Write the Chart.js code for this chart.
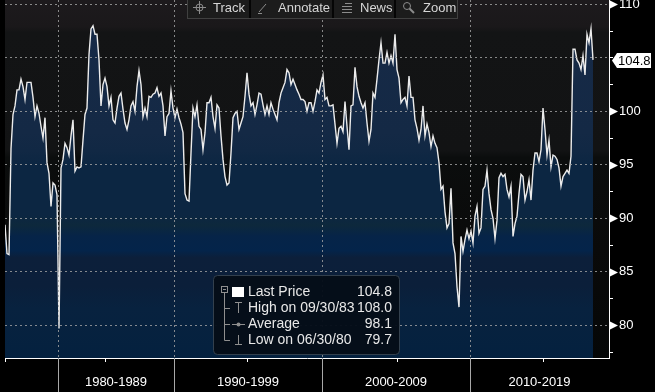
<!DOCTYPE html>
<html>
<head>
<meta charset="utf-8">
<script src="https://cdn.jsdelivr.net/npm/chart.js@4.4.0/dist/chart.umd.min.js"></script>
<style>
  html, body { margin: 0; padding: 0; background: #000; }
  canvas { display: block; }
</style>
</head>
<body>
<canvas id="chart" width="655" height="392"></canvas>
<script>
// Price history, one array per decade
const pre1980 = [89.4, 86.7, 86.6, 96.5, 99.7, 100.5, 102.0, 102.0, 103.0, 102.3, 101.1, 102.7, 102.7, 102.7,
  101.3, 99.5, 100.5, 99.8, 98.6, 97.5, 99.4, 95.2, 94.2, 91.1, 93.3, 93.1, 92.2];
const s1980s = [79.7, 94.7, 95.5, 97.0, 96.6, 95.9, 97.7, 99.2, 94.4, 94.8, 94.7, 94.8, 97.3, 99.7, 100.3, 105.3,
  107.7, 108.0, 107.2, 107.2, 104.8, 100.5, 102.5, 103.1, 102.3, 100.5, 101.3, 99.2, 98.9, 100.3, 101.4, 101.7,
  100.2, 98.9, 98.3, 99.2, 100.5, 100.9, 100.0, 102.3, 103.8, 102.5, 99.5, 100.3, 99.5, 101.4, 101.3, 101.6,
  101.7, 102.2, 101.4, 101.7, 100.5, 97.7, 99.5, 99.8, 101.9, 100.3];
const s1990s = [99.4, 100.2, 99.4, 98.8, 98.0, 92.3, 91.7, 91.6, 96.1, 100.3, 99.5, 100.6, 98.6, 98.3, 96.4, 98.0,
  100.8, 100.8, 101.3, 99.5, 98.4, 100.6, 100.3, 97.7, 95.5, 93.9, 93.1, 93.3, 96.1, 99.4, 99.8, 100.0, 98.3,
  98.9, 99.5, 101.4, 103.6, 101.6, 100.5, 100.8, 99.7, 100.6, 101.7, 101.6, 100.6, 99.7, 100.5, 99.7, 100.8,
  100.2, 99.7, 99.2, 100.8, 101.7, 102.2, 102.7, 103.9, 103.6, 102.5, 103.0, 102.5, 102.0, 101.6, 101.1, 101.1,
  100.9, 100.0, 100.8, 100.8, 100.0, 100.9, 102.0, 101.7, 102.7];
const s2000s = [103.4, 101.1, 101.3, 100.5, 100.5, 100.6, 98.8, 97.0, 98.4, 98.6, 98.1, 100.9, 98.6, 96.4, 100.5,
  100.6, 104.1, 102.3, 101.4, 100.8, 100.3, 100.8, 98.9, 97.2, 98.3, 101.7, 101.3, 103.0, 104.8, 106.4, 104.5,
  104.5, 105.5, 104.5, 105.2, 104.5, 107.2, 103.9, 103.1, 100.8, 101.1, 101.3, 100.5, 103.3, 101.3, 101.3, 99.2,
  98.4, 97.3, 98.3, 100.5, 97.7, 98.8, 98.0, 96.7, 97.7, 97.0, 96.6, 95.2, 92.7, 93.0, 90.6, 89.1, 89.5, 92.8,
  87.7, 86.7, 83.6, 81.7, 88.3, 86.9, 88.0, 88.9, 88.1];
const s2010s = [88.8, 87.7, 90.2, 91.1, 88.6, 89.1, 92.7, 93.0, 94.5, 92.3, 90.8, 90.0, 88.1, 89.8, 93.8, 94.2,
  93.9, 94.1, 92.7, 92.0, 93.0, 88.3, 89.5, 90.2, 92.3, 94.1, 93.9, 91.7, 92.5, 93.6, 91.7, 94.5, 96.1, 96.1,
  95.3, 96.4, 100.3, 98.3, 95.9, 97.3, 94.8, 95.9, 95.8, 95.5, 94.7, 93.0, 93.9, 94.2, 94.5, 94.2, 95.8, 105.8,
  105.8, 104.8, 104.5, 103.9, 105.2, 103.4, 107.2, 106.4, 107.7, 104.8];

const decadeLabels = ['1980-1989', '1990-1999', '2000-2009', '2010-2019'];
const halfDecadeIdx = [0, 50, 121, 196, 269];
const lastPrice = 104.8;
const legendRows = [
  ['Last Price', '104.8'],
  ['High on 09/30/83', '108.0'],
  ['Average', '98.1'],
  ['Low on 06/30/80', '79.7']
];
const toolbarItems = ['Track', 'Annotate', 'News', 'Zoom'];

const FONT = "'Liberation Sans', Arial, sans-serif";
const GRID = 'rgba(165, 165, 165, 0.8)';
const X_MAX = 302;

const segments = [pre1980, s1980s, s1990s, s2000s, s2010s];
const series = segments.flat();
const points = series.map((v, i) => ({ x: i, y: v }));

// decade boundaries sit between the last point of one decade and the first of the next
const boundaries = [];
let acc = 0;
segments.slice(0, -1).forEach(s => { acc += s.length; boundaries.push(acc - 0.5); });
const labelCenters = boundaries.map((b, i) => (b + (boundaries[i + 1] ?? X_MAX)) / 2);

function areaFill(context) {
  const { ctx, chartArea } = context.chart;
  if (!chartArea) return '#0c2642';
  const g = ctx.createLinearGradient(0, chartArea.top, 0, chartArea.bottom);
  [[0, '#172a47'], [0.37, '#142945'], [0.42, '#112844'], [0.46, '#0c2642'], [0.6, '#0c2642'],
   [0.63, '#0d283c'], [0.66, '#062448'], [0.7, '#04244a'], [0.72, '#0c1f3a'], [0.8, '#0b1f3a'],
   [0.86, '#08223f'], [1, '#04213f']].forEach(([o, c]) => g.addColorStop(o, c));
  return g;
}

const backdrop = {
  id: 'backdrop',
  beforeDraw(chart) {
    const { ctx, chartArea: a, width, height } = chart;
    ctx.save();
    ctx.fillStyle = '#000';
    ctx.fillRect(0, 0, width, height);
    const g = ctx.createLinearGradient(0, a.top, 0, a.bottom);
    [[0, '#1d1a1d'], [0.075, '#1a181a'], [0.09, '#131415'], [0.42, '#121314'], [0.44, '#0b0d0d'],
     [0.7, '#0a0a0a'], [1, '#050707']].forEach(([o, c]) => g.addColorStop(o, c));
    ctx.fillStyle = g;
    ctx.fillRect(a.left, a.top, a.right - a.left, a.bottom - a.top);
    ctx.restore();
  }
};

function line(ctx, x1, y1, x2, y2) {
  ctx.beginPath(); ctx.moveTo(x1, y1); ctx.lineTo(x2, y2); ctx.stroke();
}

function drawToolbar(ctx) {
  const cuts = [187, 250, 333, 395, 458];
  const textX = [213, 278, 360, 423];
  ctx.fillStyle = '#1c1c1c';
  ctx.fillRect(cuts[0], 0, cuts[4] - cuts[0], 18);
  ctx.strokeStyle = '#404040';
  ctx.lineWidth = 1;
  ctx.strokeRect(cuts[0] + 0.5, -1, cuts[4] - cuts[0] - 1, 19.5);
  ctx.strokeStyle = '#050505';
  ctx.lineWidth = 2;
  cuts.slice(1, -1).forEach(c => line(ctx, c, 0, c, 18));

  ctx.fillStyle = '#d6d6d6';
  ctx.font = `13px ${FONT}`;
  ctx.textBaseline = 'middle';
  ctx.textAlign = 'left';
  toolbarItems.forEach((t, i) => ctx.fillText(t, textX[i], 8.5));

  // icons
  ctx.strokeStyle = '#8c8c8c';
  ctx.lineWidth = 1;
  ctx.beginPath(); ctx.arc(199.5, 7.5, 3.5, 0, Math.PI * 2); ctx.stroke();
  line(ctx, 193, 7.5, 206, 7.5);
  line(ctx, 199.5, 1, 199.5, 14);
  line(ctx, 259, 12, 266, 4);
  line(ctx, 258, 13.5, 262, 13.5);
  [3.5, 6.5, 9.5, 12.5].forEach((yy, i) => line(ctx, i === 0 ? 345 : 342, yy, 352, yy));
  ctx.beginPath(); ctx.arc(407, 6, 3.5, 0, Math.PI * 2); ctx.stroke();
  ctx.lineWidth = 2;
  line(ctx, 409.5, 8.5, 414, 13);
}

function drawLegend(ctx) {
  const bx = 213.5, by = 275.5, bw = 186, bh = 79, r = 4;
  ctx.beginPath();
  ctx.moveTo(bx + r, by);
  ctx.arcTo(bx + bw, by, bx + bw, by + bh, r);
  ctx.arcTo(bx + bw, by + bh, bx, by + bh, r);
  ctx.arcTo(bx, by + bh, bx, by, r);
  ctx.arcTo(bx, by, bx + bw, by, r);
  ctx.closePath();
  ctx.fillStyle = 'rgba(5, 14, 24, 0.96)';
  ctx.fill();
  ctx.strokeStyle = '#33404d';
  ctx.lineWidth = 1;
  ctx.stroke();

  const rowY = [292, 308, 324, 340];
  const gray = '#8f8f8f';
  ctx.strokeStyle = gray;
  ctx.lineWidth = 1;
  ctx.strokeRect(221.5, 286.5, 6, 6);
  line(ctx, 223, 289.5, 226, 289.5);
  line(ctx, 224.5, 292.5, 224.5, rowY[3] + 0.5);
  rowY.slice(1).forEach(yy => line(ctx, 224.5, yy + 0.5, 230, yy + 0.5));

  ctx.fillStyle = '#ffffff';
  ctx.fillRect(232, 287, 12, 10);

  // high / average / low glyphs
  ctx.strokeStyle = gray;
  line(ctx, 235, 302.5, 242, 302.5);
  line(ctx, 238.5, 302.5, 238.5, 313);
  line(ctx, 232, 324.5, 245, 324.5);
  ctx.fillStyle = gray;
  ctx.beginPath(); ctx.arc(238.5, 324.5, 2, 0, Math.PI * 2); ctx.fill();
  line(ctx, 238.5, 335, 238.5, 344.5);
  line(ctx, 235, 344.5, 242, 344.5);

  ctx.font = `14px ${FONT}`;
  ctx.textBaseline = 'middle';
  ctx.fillStyle = '#e8e8e8';
  legendRows.forEach(([label, val], i) => {
    ctx.textAlign = 'left';
    ctx.fillText(label, 248, rowY[i]);
    ctx.textAlign = 'right';
    ctx.fillText(val, 392, rowY[i]);
  });
}

const overlay = {
  id: 'overlay',
  afterDraw(chart) {
    const { ctx, chartArea: a, scales: { x, y }, height } = chart;
    ctx.save();

    // bottom axis: long marks at decade edges, short marks at mid-decade
    ctx.lineWidth = 1;
    ctx.strokeStyle = '#a8a8a8';
    boundaries.forEach(b => {
      const px = Math.round(x.getPixelForValue(b)) + 0.5;
      line(ctx, px, a.bottom, px, height);
    });
    ctx.strokeStyle = '#ffffff';
    halfDecadeIdx.forEach(v => {
      const px = Math.round(x.getPixelForValue(v)) + 0.5;
      line(ctx, px, a.bottom, px, a.bottom + 4);
    });

    // right axis flags on labelled ticks
    ctx.fillStyle = '#ffffff';
    y.ticks.forEach(t => {
      if (t.value % 5 !== 0 || Math.abs(t.value - lastPrice) < 1) return;
      const py = Math.round(y.getPixelForValue(t.value)) + 0.5;
      ctx.beginPath();
      ctx.moveTo(a.right + 1, py - 4);
      ctx.lineTo(a.right + 9, py);
      ctx.lineTo(a.right + 1, py + 4);
      ctx.closePath();
      ctx.fill();
    });

    // last price tag
    const ly = Math.round(y.getPixelForValue(lastPrice)) + 0.5;
    ctx.beginPath();
    ctx.moveTo(a.right + 3, ly);
    ctx.lineTo(a.right + 8, ly - 7.5);
    ctx.lineTo(a.right + 42, ly - 7.5);
    ctx.lineTo(a.right + 42, ly + 7.5);
    ctx.lineTo(a.right + 8, ly + 7.5);
    ctx.closePath();
    ctx.fill();
    ctx.fillStyle = '#000';
    ctx.font = `13px ${FONT}`;
    ctx.textAlign = 'left';
    ctx.textBaseline = 'middle';
    ctx.fillText(lastPrice.toFixed(1), a.right + 9, ly + 0.5);

    drawToolbar(ctx);
    drawLegend(ctx);
    ctx.restore();
  }
};

new Chart(document.getElementById('chart'), {
  type: 'line',
  data: {
    datasets: [{
      data: points,
      borderColor: '#ececec',
      borderWidth: 1.4,
      pointRadius: 0,
      tension: 0,
      fill: 'start',
      backgroundColor: areaFill
    }]
  },
  options: {
    responsive: false,
    animation: false,
    layout: { padding: { left: 5, top: 0, right: 0, bottom: 0 } },
    plugins: { legend: { display: false }, tooltip: { enabled: false } },
    scales: {
      x: {
        type: 'linear',
        min: 0,
        max: X_MAX,
        afterBuildTicks: s => {
          s.ticks = [...boundaries, ...labelCenters].sort((p, q) => p - q).map(v => ({ value: v }));
        },
        ticks: {
          autoSkip: false,
          maxRotation: 0,
          padding: 17,
          color: '#ffffff',
          font: { family: FONT, size: 13 },
          callback: v => {
            const i = labelCenters.indexOf(v);
            return i >= 0 ? decadeLabels[i] : '';
          }
        },
        grid: {
          z: 1,
          drawTicks: false,
          color: c => boundaries.includes(c.tick && c.tick.value) ? GRID : 'transparent'
        },
        border: { z: 2, color: '#ffffff', width: 1, dash: [2, 3] },
        afterFit: s => { s.height = 34; s.paddingLeft = 0; s.paddingRight = 0; }
      },
      y: {
        position: 'right',
        min: 76.94,
        max: 110.4,
        ticks: {
          stepSize: 2.5,
          includeBounds: false,
          padding: 6,
          color: '#ffffff',
          font: { family: FONT, size: 13 },
          callback: v => (v % 5 === 0 && Math.abs(v - lastPrice) > 1) ? String(v) : ''
        },
        grid: {
          z: 1,
          tickLength: 4,
          tickColor: '#ffffff',
          color: c => (c.tick && c.tick.value % 5 === 0) ? GRID : 'transparent'
        },
        border: { z: 2, color: '#ffffff', width: 1, dash: [2, 3] },
        afterFit: s => { s.width = 46; s.paddingTop = 0; s.paddingBottom = 0; }
      }
    }
  },
  plugins: [backdrop, overlay]
});
</script>
</body>
</html>
